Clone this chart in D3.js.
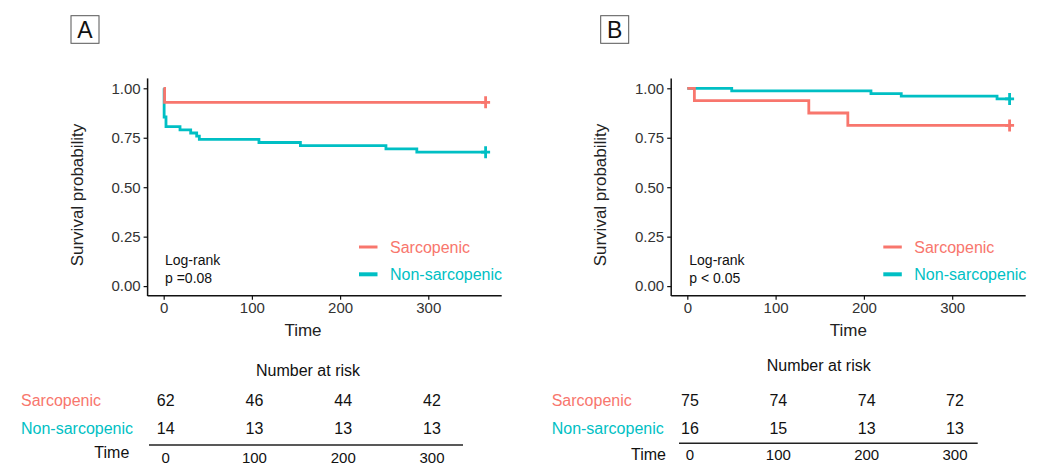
<!DOCTYPE html>
<html>
<head>
<meta charset="utf-8">
<script src="https://cdn.jsdelivr.net/npm/d3@7"></script>
<style>
  html, body { margin: 0; padding: 0; background: #fff; }
  svg { display: block; font-family: "Liberation Sans", Arial, Helvetica, sans-serif; }
</style>
</head>
<body>
<svg id="chart" width="1039" height="466"></svg>
<script>
// ---------------- DATA ----------------
const groups = ["Sarcopenic", "Non-sarcopenic"];
const timeTicks = [0, 100, 200, 300];
const survTicks = [0, 0.25, 0.5, 0.75, 1];
const survTickLabels = ["0.00", "0.25", "0.50", "0.75", "1.00"];
const riskTimes = [0, 100, 200, 300];

// Panel A
const aSarcTime = [0, 1, 365];
const aSarcSurv = [1, 0.929, 0.929];
const aNonTime = [0, 0.5, 2.6, 18.5, 30.6, 37.4, 40.4, 108, 155, 252, 287, 365];
const aNonSurv = [1, 0.855, 0.806, 0.790, 0.774, 0.758, 0.742, 0.726, 0.710, 0.694, 0.677, 0.677];
const aRiskSarc = [62, 46, 44, 42];
const aRiskNon = [14, 13, 13, 13];
const aPText = "p =0.08";

// Panel B
const bSarcTime = [0, 8, 137.6, 181.8, 365];
const bSarcSurv = [1, 0.9375, 0.875, 0.8125, 0.8125];
const bNonTime = [0, 50.3, 208, 242.3, 350.8, 365];
const bNonSurv = [1, 0.987, 0.973, 0.960, 0.946, 0.946];
const bRiskSarc = [75, 74, 74, 72];
const bRiskNon = [16, 15, 13, 13];
const bPText = "p < 0.05";

// ---------------- STYLE ----------------
const colors = { "Sarcopenic": "#F8766D", "Non-sarcopenic": "#00BFC4" };
const svg = d3.select("#chart");

function drawPanel(p) {
  const g = svg.append("g");
  const x = d3.scaleLinear().domain([-18.25, 383.25]).range([p.left, p.right]);
  const y = d3.scaleLinear().domain([-0.05, 1.05]).range([296, 78.4]);

  // panel label box
  g.append("rect").attr("x", p.boxX).attr("y", 15.7).attr("width", 28).attr("height", 27.6)
    .attr("fill", "none").attr("stroke", "#555").attr("stroke-width", 1);
  g.append("text").attr("x", p.boxX + 14).attr("y", 37.5).attr("text-anchor", "middle")
    .attr("font-size", 23).attr("fill", "#111").text(p.label);

  // axes
  const yAxis = d3.axisLeft(y).tickValues(survTicks)
    .tickFormat((d, i) => survTickLabels[i]).tickSize(4).tickPadding(3);
  const ya = g.append("g").attr("transform", `translate(${p.left},0)`).call(yAxis);
  ya.select(".domain").attr("stroke", "#111").attr("stroke-width", 1.5)
    .attr("d", `M0,${y(1.05)}V${y(-0.05)}`);
  ya.selectAll(".tick line").attr("stroke", "#111").attr("stroke-width", 1.2);
  ya.selectAll(".tick text").attr("font-size", 15).attr("fill", "#333");

  const xAxis = d3.axisBottom(x).tickValues(timeTicks).tickSize(4).tickPadding(3);
  const xa = g.append("g").attr("transform", `translate(0,295.7)`).call(xAxis);
  xa.select(".domain").attr("stroke", "#111").attr("stroke-width", 1.5)
    .attr("d", `M${p.left},0H${p.right}`);
  xa.selectAll(".tick line").attr("stroke", "#111").attr("stroke-width", 1.2);
  xa.selectAll(".tick text").attr("font-size", 15).attr("fill", "#333");

  // axis titles
  g.append("text").attr("transform", `translate(${p.yTitleX},195) rotate(-90)`)
    .attr("text-anchor", "middle").attr("dy", "0.35em").attr("font-size", 17)
    .attr("fill", "#222").text("Survival probability");
  g.append("text").attr("x", p.xTitleX).attr("y", 330).attr("dy", "0.35em")
    .attr("text-anchor", "middle").attr("font-size", 17).attr("fill", "#222").text("Time");

  // curves (non-sarcopenic first, sarcopenic on top)
  const line = d3.line().x(d => x(d[0])).y(d => y(d[1])).curve(d3.curveStepAfter);
  const series = [
    { name: "Non-sarcopenic", t: p.nonTime, s: p.nonSurv },
    { name: "Sarcopenic", t: p.sarcTime, s: p.sarcSurv }
  ];
  series.forEach(sr => {
    const pts = sr.t.map((t, i) => [t, sr.s[i]]);
    g.append("path").attr("d", line(pts)).attr("fill", "none")
      .attr("stroke", colors[sr.name]).attr("stroke-width", 2.8);
    const last = pts[pts.length - 1];
    const cx = x(last[0]), cy = y(last[1]);
    g.append("path").attr("d", `M${cx - 4.5},${cy}H${cx + 4.5}M${cx},${cy - 6}V${cy + 6}`)
      .attr("stroke", colors[sr.name]).attr("stroke-width", 2.8).attr("fill", "none");
  });

  // log-rank text
  g.append("text").attr("x", p.lrX).attr("y", 265).attr("font-size", 14).attr("fill", "#111").text("Log-rank");
  g.append("text").attr("x", p.lrX).attr("y", 282.7).attr("font-size", 14).attr("fill", "#111").text(p.pText);

  // legend
  groups.forEach((name, i) => {
    const ly = i === 0 ? 247 : 274.3;
    g.append("line").attr("x1", p.legX).attr("x2", p.legX + 18.5).attr("y1", ly).attr("y2", ly)
      .attr("stroke", colors[name]).attr("stroke-width", i === 0 ? 3 : 4);
    g.append("text").attr("x", p.legX + 31).attr("y", ly).attr("dy", "0.35em")
      .attr("font-size", 16).attr("fill", colors[name]).text(name);
  });

  // risk table
  const tx = d3.scaleLinear().domain([0, 300]).range(p.tRange);
  g.append("text").attr("x", p.nrX).attr("y", p.nrY).attr("dy", "0.35em").attr("text-anchor", "middle")
    .attr("font-size", 16).attr("fill", "#111").text("Number at risk");
  const rows = [
    { name: "Sarcopenic", vals: p.riskSarc, y: 400 },
    { name: "Non-sarcopenic", vals: p.riskNon, y: 428.3 }
  ];
  rows.forEach(r => {
    g.append("text").attr("x", p.rowLabelX).attr("y", r.y).attr("dy", "0.35em")
      .attr("font-size", 16).attr("fill", colors[r.name]).text(r.name);
    g.selectAll(null).data(riskTimes).enter().append("text")
      .attr("x", (d) => tx(d)).attr("y", r.y).attr("dy", "0.35em").attr("text-anchor", "middle")
      .attr("font-size", 16).attr("fill", "#111").text((d, i) => r.vals[i]);
  });
  g.append("line").attr("x1", p.tLine[0]).attr("x2", p.tLine[1]).attr("y1", p.tLineY).attr("y2", p.tLineY)
    .attr("stroke", "#222").attr("stroke-width", 1.6);
  g.append("text").attr("x", p.timeLabelRight).attr("y", p.timeLabelY).attr("dy", "0.35em")
    .attr("text-anchor", "end").attr("font-size", 16).attr("fill", "#111").text("Time");
  g.selectAll(null).data(riskTimes).enter().append("text")
    .attr("x", d => tx(d)).attr("y", p.tickY).attr("dy", "0.35em").attr("text-anchor", "middle")
    .attr("font-size", 15).attr("fill", "#111").text(d => d);
}

drawPanel({
  label: "A", boxX: 71, left: 147.6, right: 501.7, yTitleX: 77, xTitleX: 303,
  sarcTime: aSarcTime, sarcSurv: aSarcSurv, nonTime: aNonTime, nonSurv: aNonSurv,
  pText: aPText, lrX: 165, legX: 359,
  riskSarc: aRiskSarc, riskNon: aRiskNon,
  nrX: 308, nrY: 370, rowLabelX: 21, tRange: [165.7, 432],
  tLine: [149, 463], tLineY: 445, timeLabelRight: 129.3, timeLabelY: 452.7, tickY: 457.3
});

drawPanel({
  label: "B", boxX: 600.7, left: 671.2, right: 1025.7, yTitleX: 600, xTitleX: 848.3,
  sarcTime: bSarcTime, sarcSurv: bSarcSurv, nonTime: bNonTime, nonSurv: bNonSurv,
  pText: bPText, lrX: 689.3, legX: 883.3,
  riskSarc: bRiskSarc, riskNon: bRiskNon,
  nrX: 818.7, nrY: 365, rowLabelX: 551.7, tRange: [690, 955],
  tLine: [679, 977.7], tLineY: 443.3, timeLabelRight: 666, timeLabelY: 454.3, tickY: 454.3
});
</script>
</body>
</html>
